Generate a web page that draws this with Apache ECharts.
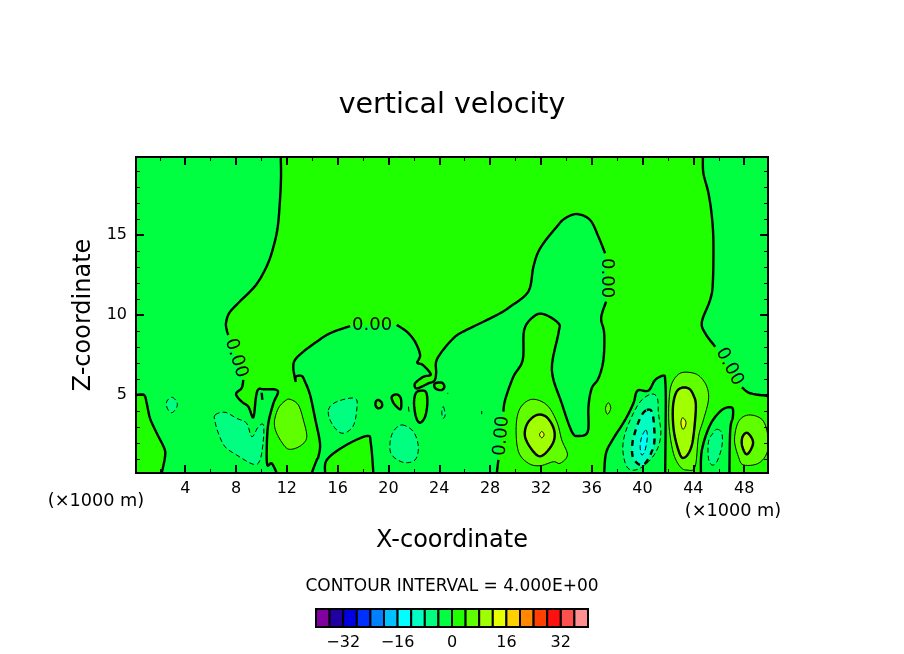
<!DOCTYPE html>
<html>
<head>
<meta charset="utf-8">
<title>vertical velocity</title>
<script src="https://cdn.jsdelivr.net/npm/echarts@6/dist/echarts.min.js"></script>
<style>
html, body { margin: 0; padding: 0; background: #fff; }
#main { width: 904px; height: 654px; }
</style>
</head>
<body>
<div id="main"></div>
<script>
// axis ranges and ticks, km
var xRange = [0.125, 49.875];
var zRange = [0.125, 19.875];
var xMajor = [4, 8, 12, 16, 20, 24, 28, 32, 36, 40, 44, 48];
var xMinor = [2, 6, 10, 14, 18, 22, 26, 30, 34, 38, 42, 46];
var zMajor = [5, 10, 15];
var zMinor = [1, 2, 3, 4, 6, 7, 8, 9, 11, 12, 13, 14, 16, 17, 18, 19];

// colour scale
var scaleLevels = [-40, -36, -32, -28, -24, -20, -16, -12, -8, -4, 0, 4, 8, 12, 16, 20, 24, 28, 32, 36, 40];
var scaleColors = ['#8000a0', '#2000a0', '#0000e0', '#0030ff', '#0080ff', '#00c0ff', '#00ffff', '#00ffc0', '#00ff80', '#00ff40',
	'#20ff00', '#60ff00', '#a0ff00', '#e8ff00', '#ffd000', '#ff8800', '#ff4000', '#ff1010', '#ff5050', '#ff9090'];
var scaleLabels = [-32, -16, 0, 16, 32];

// zero contours, [x, z] in km, null where a label breaks the line
var zeroTopLeft = [[11.52, 19.875], [11.54, 18.63], [11.46, 17.19], [11.28, 15.5], [10.94, 14.25], [10.46, 13.13], [9.57, 11.88], [8.18, 10.75], [7.47, 10.13], [7.21, 9.5], [7.27, 9.06], [7.39, 8.75], null,
	[8.57, 5.94], [8.45, 5.44], [8.0, 5.06], [8.45, 4.58], [8.97, 4.27], [9.36, 3.61], [9.57, 4.89], [9.76, 5.36], [10.15, 5.36], [11.28, 5.27], [10.94, 4.48], [10.54, 3.23], [10.42, 1.77], [10.46, 0.63], [10.81, 0.73], [11.2, 0.125]];
var zeroLowerLeft = [[2.15, 0.125], [2.41, 1.14], [2.35, 1.67], [1.76, 2.61], [1.23, 3.54], [0.97, 4.48], [0.76, 5.0], [0.125, 5.0]];
var zeroMiddle = [[13.96, 0.125], [14.35, 0.94], [14.48, 1.14], [14.61, 1.98], [14.22, 3.54], [13.83, 5.0], [13.43, 5.83], [13.17, 6.19], [12.7, 6.14], [12.7, 5.83], [12.51, 6.67], [12.64, 7.19], [13.3, 7.71], [14.35, 8.33], [15.4, 8.86], [16.98, 9.31], null,
	[20.65, 9.38], [21.44, 8.96], [22.09, 8.33], [22.49, 7.5], [22.27, 7.02], [22.7, 6.88], [23.33, 6.29], [22.75, 6.14], [22.09, 5.73], [22.17, 5.42], [22.62, 5.52], [23.14, 5.73], [23.61, 5.89], [23.75, 6.36], [23.75, 7.08], [24.2, 7.71], [24.98, 8.44], [25.64, 8.86], [27.47, 9.58], [28.79, 10.11], [29.57, 10.52], [31.01, 11.46], [31.41, 13.02], [31.94, 14.17], [33.25, 15.52], [33.9, 16.04], [34.83, 16.31], [35.87, 15.94], [36.53, 14.89], [37.05, 13.86], null,
	[37.13, 10.83], [36.74, 9.81], [36.98, 8.86], [36.92, 7.19], [36.53, 6.04], [36.0, 5.42], [35.74, 4.27], [35.69, 2.71], [34.95, 2.44], [34.43, 2.71], [33.64, 4.48], [32.86, 6.56], [33.38, 8.86], [33.38, 9.48], [32.2, 10.06], [31.41, 9.89], [30.68, 9.06], [30.57, 7.19], [29.83, 6.14], [29.18, 4.69], [29.05, 3.96], null,
	[28.65, 0.94], [28.53, 0.125]];
var zeroBump = [[15.01, 0.125], [15.14, 0.94], [16.45, 1.77], [18.29, 2.44], [18.61, 1.98], [18.81, 0.125]];
var zeroColumnA = [[36.98, 0.125], [37.13, 1.38], [37.71, 2.29], [38.63, 3.44], [39.28, 4.48], [39.6, 5.27], [40.46, 5.27], [40.99, 5.94], [41.65, 6.21], [41.78, 5.94], [41.83, 4.5], [41.78, 0.125]];
var zeroColumnB = [[44.59, 0.125], [44.67, 1.56], [45.32, 3.13], [46.24, 4.06], [47.03, 4.21], [47.11, 3.64], [46.9, 2.81], [46.84, 0.125]];
var zeroTopRight = [[44.75, 19.875], [44.79, 18.86], [45.19, 17.61], [45.46, 16.14], [45.58, 14.48], [45.53, 11.98], [45.32, 10.94], [44.67, 9.58], [44.93, 8.86], [45.72, 8.02], null,
	[47.82, 5.48], [48.47, 5.11], [49.875, 4.94]];
var zeroEllipse = [[22.54, 5.27], [22.96, 5.17], [23.06, 4.48], [22.88, 3.64], [22.49, 3.27], [22.17, 3.61], [22.01, 4.48], [22.15, 5.11]];
var zeroLoopA = [[19.2, 4.69], [19.47, 4.52], [19.47, 4.27], [19.2, 4.17], [19.0, 4.31], [19.0, 4.58]];
var zeroLoopB = [[20.26, 4.89], [20.65, 5.04], [20.97, 4.79], [20.99, 4.17], [20.78, 4.17], [20.38, 4.52]];
var zeroLoopC = [[23.67, 5.73], [24.2, 5.77], [24.4, 5.52], [24.2, 5.31], [23.8, 5.36], [23.61, 5.52]];
var zeroMark = [[10.02, 5.14], [10.07, 4.69]];

// +4 contours
var plus4A = [[12.25, 4.73], [12.9, 4.38], [13.3, 3.44], [13.57, 2.39], [13.17, 1.88], [12.39, 1.61], [11.86, 1.77], [11.2, 2.61], [11.02, 3.33], [11.33, 4.17], [11.86, 4.63]];
var plus4B = [[31.28, 4.73], [32.46, 4.38], [33.25, 3.33], [33.64, 2.19], [34.09, 1.25], [33.51, 0.73], [32.98, 0.83], [31.94, 0.58], [31.02, 0.73], [30.23, 1.46], [30.05, 3.02], [30.36, 4.17]];
var plus4C = [[42.96, 6.36], [43.88, 6.39], [44.53, 6.14], [45.06, 5.52], [45.19, 4.69], [44.79, 3.44], [44.4, 2.39], [44.14, 0.52], [43.49, 0.31], [42.96, 0.52], [42.43, 1.36], [42.09, 3.02], [42.09, 4.69], [42.31, 5.73]];
var plus4D = [[48.34, 3.75], [49.39, 3.48], [49.83, 2.61], [49.83, 1.46], [49.12, 0.73], [47.94, 0.63], [47.55, 1.14], [47.24, 2.19], [47.55, 3.33]];
var plus4E = [[37.31, 4.52], [37.5, 4.17], [37.24, 3.79], [37.08, 4.17]];

// +8 contours
var plus8A = [[31.68, 3.75], [32.46, 3.61], [33.04, 2.81], [32.94, 1.98], [32.07, 1.19], [31.41, 1.46], [30.75, 2.39], [30.94, 3.23]];
var plus8B = [[42.96, 5.42], [43.61, 5.42], [44.0, 5.0], [44.2, 4.27], [44.0, 2.39], [43.75, 1.56], [43.35, 1.11], [42.96, 1.25], [42.49, 2.61], [42.38, 4.06], [42.57, 5.0]];
var plus8C = [[48.21, 2.64], [48.61, 2.29], [48.68, 1.88], [48.34, 1.36], [48.08, 1.36], [47.82, 1.88], [47.87, 2.39]];

// +12 contours
var plus12A = [[32.07, 2.72], [32.25, 2.52], [32.07, 2.32], [31.89, 2.52]];
var plus12B = [[43.17, 3.58], [43.41, 3.33], [43.35, 3.02], [43.17, 2.86], [43.04, 3.13], [43.04, 3.39]];

// -4 contours
var minus4A = [[2.94, 4.86], [3.33, 4.58], [3.33, 4.23], [2.94, 3.89], [2.59, 4.17], [2.54, 4.58]];
var minus4B = [[6.35, 3.75], [7.13, 3.92], [8.05, 3.54], [8.84, 3.23], [9.24, 2.39], [9.76, 3.02], [10.15, 3.13], [10.15, 2.19], [9.89, 0.94], [9.36, 0.67], [8.05, 1.25], [7.13, 1.77], [6.61, 2.61], [6.35, 3.33]];
var minus4C = [[15.27, 4.06], [15.93, 4.58], [17.37, 4.79], [17.5, 4.06], [17.19, 3.02], [16.32, 2.61], [15.53, 3.23]];
var minus4D = [[21.05, 3.13], [21.96, 2.71], [22.35, 1.77], [22.09, 0.94], [21.17, 0.79], [20.26, 1.25], [20.12, 1.98], [20.38, 2.71]];
var minus4E = [[40.73, 5.06], [41.17, 4.79], [41.25, 3.86], [41.44, 2.61], [41.13, 1.56], [40.34, 0.73], [39.42, 0.31], [38.76, 0.52], [38.45, 1.56], [38.63, 2.61], [39.28, 3.86], [39.94, 4.69]];
var minus4F = [[45.85, 2.86], [46.24, 2.61], [46.24, 1.77], [45.85, 0.83], [45.46, 0.63], [45.19, 1.04], [45.19, 2.08], [45.54, 2.61]];
var minus4G = [[24.32, 4.27], [24.46, 3.75], [24.28, 3.54], [24.2, 3.96]];
var minus4Mark = [[21.57, 4.27], [21.62, 3.92]];

// -8 and -12 contours
var minus8A = [[40.34, 4.06], [40.73, 3.96], [40.91, 3.02], [40.86, 1.77], [40.07, 0.63], [39.28, 1.04], [39.2, 1.98], [39.55, 3.02], [39.94, 3.75]];
var minus12A = [[40.26, 2.81], [40.38, 2.39], [40.2, 1.56], [39.94, 1.25], [39.81, 1.77], [39.94, 2.39]];

var speckA = [[24.67, 5.14], [24.67, 5.08]];
var speckB = [[27.34, 4.0], [27.34, 3.8]];

// regions in paint order. band is the index into scaleColors, -1 means line only
var regions = [
	{ parts: [zeroTopLeft, zeroLowerLeft], tail: [[xRange[0], zRange[1]]], level: 0, band: 9 },
	{ parts: [zeroMiddle], level: 0, band: 9 },
	{ parts: [zeroColumnA], level: 0, band: 9 },
	{ parts: [zeroColumnB], level: 0, band: 9 },
	{ parts: [zeroTopRight], tail: [[xRange[1], zRange[1]]], level: 0, band: 9 },
	{ parts: [zeroBump], level: 0, band: 10 },
	{ parts: [zeroEllipse], closed: true, level: 0, band: 10 },
	{ parts: [zeroLoopA], closed: true, level: 0, band: 10 },
	{ parts: [zeroLoopB], closed: true, level: 0, band: 10 },
	{ parts: [zeroLoopC], closed: true, level: 0, band: 10 },
	{ parts: [zeroMark], level: 0, band: -1 },
	{ parts: [plus4A], closed: true, level: 4, band: 11 },
	{ parts: [plus4B], closed: true, level: 4, band: 11 },
	{ parts: [plus4C], closed: true, level: 4, band: 11 },
	{ parts: [plus4D], closed: true, level: 4, band: 11 },
	{ parts: [plus4E], closed: true, level: 4, band: 11 },
	{ parts: [plus8A], closed: true, level: 8, band: 12 },
	{ parts: [plus8B], closed: true, level: 8, band: 12 },
	{ parts: [plus8C], closed: true, level: 8, band: 12 },
	{ parts: [plus12A], closed: true, level: 12, band: 13 },
	{ parts: [plus12B], closed: true, level: 12, band: 13 },
	{ parts: [minus4A], closed: true, level: -4, band: 8 },
	{ parts: [minus4B], closed: true, level: -4, band: 8 },
	{ parts: [minus4C], closed: true, level: -4, band: 8 },
	{ parts: [minus4D], closed: true, level: -4, band: 8 },
	{ parts: [minus4E], closed: true, level: -4, band: 8 },
	{ parts: [minus4F], closed: true, level: -4, band: 8 },
	{ parts: [minus4G], closed: true, level: -4, band: 8 },
	{ parts: [minus4Mark], level: -4, band: -1 },
	{ parts: [minus8A], closed: true, level: -8, band: 7 },
	{ parts: [minus12A], closed: true, level: -12, band: 6 },
	{ parts: [speckA], level: 4, band: -1 },
	{ parts: [speckB], level: 4, band: -1 }
];

// label spots on the zero contour: x, z, rotation in degrees
var zeroLabels = [[18.71, 9.38, 0], [8.0, 7.31, -72], [37.2, 12.31, -90], [46.84, 6.77, -62], [28.9, 2.44, 85]];

var fontName = '"DejaVu Sans"';

// catmull-rom through the points, in pixels
function spline(pts, closed) {
	var out = [];
	var n = pts.length;
	if (n < 3) return pts;
	var last = closed ? n : n - 1;
	function at(i) {
		return closed ? pts[(i + n) % n] : pts[Math.max(0, Math.min(n - 1, i))];
	}
	for (var i = 0; i < last; i++) {
		var p0 = at(i - 1), p1 = at(i), p2 = at(i + 1), p3 = at(i + 2);
		for (var s = 0; s < 6; s++) {
			var t = s / 6, t2 = t * t, t3 = t2 * t;
			out.push([
				0.5 * (2 * p1[0] + (p2[0] - p0[0]) * t + (2 * p0[0] - 5 * p1[0] + 4 * p2[0] - p3[0]) * t2 + (3 * p1[0] - p0[0] - 3 * p2[0] + p3[0]) * t3),
				0.5 * (2 * p1[1] + (p2[1] - p0[1]) * t + (2 * p0[1] - 5 * p1[1] + 4 * p2[1] - p3[1]) * t2 + (3 * p1[1] - p0[1] - 3 * p2[1] + p3[1]) * t3)
			]);
		}
	}
	if (!closed) out.push(pts[n - 1]);
	return out;
}

// split a contour at its nulls, map to pixels and smooth each run
function runsOf(part, api, closed) {
	var runs = [], cur = [];
	part.forEach(function(p) {
		if (p === null) {
			runs.push(cur);
			cur = [];
		} else {
			cur.push(api.coord(p));
		}
	});
	runs.push(cur);
	return runs.map(function(r) { return spline(r, closed); });
}

function renderFill(params, api) {
	var reg = regions[params.dataIndex];
	if (reg.band < 0) return null;
	var pts = [];
	reg.parts.forEach(function(part) {
		runsOf(part, api, reg.closed).forEach(function(r) { pts = pts.concat(r); });
	});
	(reg.tail || []).forEach(function(p) { pts.push(api.coord(p)); });
	return { type: 'polygon', shape: { points: pts }, style: { fill: scaleColors[reg.band], stroke: null } };
}

function renderLine(params, api) {
	var reg = regions[params.dataIndex];
	var bold = reg.level % 8 === 0;
	var children = [];
	reg.parts.forEach(function(part) {
		runsOf(part, api, reg.closed).forEach(function(r) {
			children.push({
				type: reg.closed ? 'polygon' : 'polyline',
				shape: { points: r },
				style: {
					fill: null,
					stroke: '#000',
					lineWidth: bold ? 2.4 : 1,
					lineDash: reg.level < 0 ? (bold ? [6, 5] : [5, 3]) : null
				}
			});
		});
	});
	return { type: 'group', children: children };
}

function renderLabel(params, api) {
	var spot = zeroLabels[params.dataIndex];
	var at = api.coord([spot[0], spot[1]]);
	return {
		type: 'text',
		x: at[0],
		y: at[1],
		rotation: spot[2] * Math.PI / 180,
		style: { text: '0.00', font: '18px ' + fontName, fill: '#000', align: 'center', verticalAlign: 'middle' }
	};
}

function renderCell(params, api) {
	var i = params.dataIndex;
	var a = api.coord([scaleLevels[i], 1]);
	var b = api.coord([scaleLevels[i + 1], 0]);
	return {
		type: 'rect',
		shape: { x: a[0], y: a[1], width: b[0] - a[0], height: b[1] - a[1] },
		style: { fill: scaleColors[i], stroke: '#000', lineWidth: 2 }
	};
}

function xAxisOf(position, ticks, len, width, showLabel, name) {
	return {
		type: 'value', gridIndex: 0, position: position, min: xRange[0], max: xRange[1], z: 5,
		name: name, nameLocation: 'middle', nameGap: 56,
		nameTextStyle: { fontFamily: fontName, fontSize: 24, color: '#000' },
		splitLine: { show: false },
		axisLine: { show: true, onZero: false, lineStyle: { color: '#000', width: 2 } },
		axisTick: { show: true, inside: true, length: len, customValues: ticks, lineStyle: { color: '#000', width: width } },
		axisLabel: { show: showLabel, customValues: ticks, margin: 8, fontFamily: fontName, fontSize: 16, color: '#000' }
	};
}

function yAxisOf(position, ticks, len, width, showLabel, name) {
	return {
		type: 'value', gridIndex: 0, position: position, min: zRange[0], max: zRange[1], z: 5,
		name: name, nameLocation: 'middle', nameGap: 39, nameRotate: 90,
		nameTextStyle: { fontFamily: fontName, fontSize: 24, color: '#000' },
		splitLine: { show: false },
		axisLine: { show: true, onZero: false, lineStyle: { color: '#000', width: 2 } },
		axisTick: { show: true, inside: true, length: len, customValues: ticks, lineStyle: { color: '#000', width: width } },
		axisLabel: { show: showLabel, customValues: ticks, margin: 9, fontFamily: fontName, fontSize: 16, color: '#000' }
	};
}

function freeText(text, x, y, size) {
	return {
		type: 'text', x: x, y: y,
		style: { text: text, font: size + 'px ' + fontName, fill: '#000', align: 'center', verticalAlign: 'middle' }
	};
}

var myChart = echarts.init(document.getElementById('main'));
var indexData = regions.map(function(r, i) { return [i, 0]; });

var option = {
	animation: false,
	backgroundColor: '#fff',
	title: {
		text: 'vertical velocity', left: 'center', top: 86,
		textStyle: { fontFamily: fontName, fontSize: 28.5, fontWeight: 'normal', color: '#000' }
	},
	grid: [
		{ left: 136, top: 157, width: 632, height: 316, show: true, backgroundColor: scaleColors[10], borderWidth: 0 },
		{ left: 316, top: 609, width: 272, height: 18, show: false }
	],
	xAxis: [
		xAxisOf('bottom', xMajor, 8, 2, true, 'X-coordinate'),
		xAxisOf('top', xMajor, 8, 2, false),
		xAxisOf('bottom', xMinor, 4, 1, false),
		xAxisOf('top', xMinor, 4, 1, false),
		{
			type: 'value', gridIndex: 1, min: scaleLevels[0], max: scaleLevels[20],
			splitLine: { show: false }, axisLine: { show: false }, axisTick: { show: false },
			axisLabel: { customValues: scaleLabels, margin: 8, fontFamily: fontName, fontSize: 16, color: '#000',
				formatter: function(v) { return String(v).replace('-', '\u2212'); } }
		}
	],
	yAxis: [
		yAxisOf('left', zMajor, 8, 2, true, 'Z-coordinate'),
		yAxisOf('right', zMajor, 8, 2, false),
		yAxisOf('left', zMinor, 4, 1, false),
		yAxisOf('right', zMinor, 4, 1, false),
		{ type: 'value', gridIndex: 1, min: 0, max: 1, show: false }
	],
	graphic: [
		freeText('(\u00d71000 m)', 96, 501, 17.7),
		freeText('(\u00d71000 m)', 733, 511, 17.7),
		freeText('CONTOUR INTERVAL = 4.000E+00', 452, 587, 17)
	],
	series: [
		{ type: 'custom', name: 'fills', xAxisIndex: 0, yAxisIndex: 0, clip: true, z: 2, silent: true, data: indexData, renderItem: renderFill },
		{ type: 'custom', name: 'contours', xAxisIndex: 0, yAxisIndex: 0, clip: true, z: 3, silent: true, data: indexData, renderItem: renderLine },
		{ type: 'custom', name: 'labels', xAxisIndex: 0, yAxisIndex: 0, z: 4, silent: true, data: zeroLabels.map(function(l, i) { return [i, 0]; }), renderItem: renderLabel },
		{ type: 'custom', name: 'scale', xAxisIndex: 4, yAxisIndex: 4, silent: true, data: scaleColors.map(function(c, i) { return [i, 0]; }), renderItem: renderCell }
	]
};
myChart.setOption(option);
</script>
</body>
</html>
